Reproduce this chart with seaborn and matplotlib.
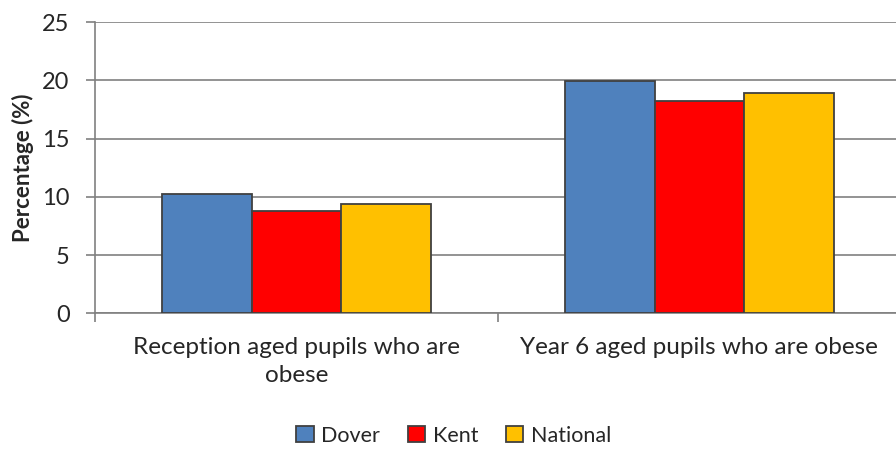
import pandas as pd
import matplotlib
matplotlib.use("Agg")
import matplotlib.pyplot as plt
import seaborn as sns

# data
categories = ["Reception aged pupils who are\nobese", "Year 6 aged pupils who are obese"]
areas = ["Dover", "Kent", "National"]
dover = [10.2, 19.9]
kent = [8.75, 18.25]
national = [9.35, 18.9]
colors = ["#4F81BD", "#FF0000", "#FFC000"]

df = pd.DataFrame({
    "category": categories * 3,
    "area": [a for a in areas for _ in categories],
    "value": dover + kent + national,
})

sns.set_style("white")
plt.rcParams["font.family"] = ["Lato", "DejaVu Sans"]

fig = plt.figure(figsize=(8.96, 4.5), dpi=100)
# axis runs a little past the right edge, like the original
ax = fig.add_axes([95.3 / 896, 1 - 313.3 / 450, 805.5 / 896, 291.3 / 450])

sns.barplot(data=df, x="category", y="value", hue="area", hue_order=areas,
            palette=colors, width=0.667, edgecolor="#404040", linewidth=1.3,
            saturation=1, ax=ax, zorder=3)

ax.set_xlim(-0.5, 1.5)
ax.set_ylim(0, 25)
ax.set_yticks(range(0, 26, 5))
ax.yaxis.grid(True, color="#808080", linewidth=1.2, zorder=0)
ax.set_axisbelow(True)

for s in ["top", "right"]:
    ax.spines[s].set_visible(False)
for s in ["left", "bottom"]:
    ax.spines[s].set_color("#808080")
    ax.spines[s].set_linewidth(1.2)

ax.tick_params(axis="y", labelsize=17, length=6.5, width=1.2, color="#808080", pad=12, left=True)
ax.tick_params(axis="x", labelsize=17.5, length=0, pad=17)
for lbl in ax.get_xticklabels():
    lbl.set_linespacing(1.4)
# tick marks between categories
ax.set_xticks([-0.5, 0.5, 1.5], minor=True)
ax.tick_params(axis="x", which="minor", length=6.5, width=1.2, color="#808080", bottom=True)

ax.set_xlabel("")
ax.set_ylabel("Percentage (%)", fontsize=16, fontweight="bold", labelpad=6)

ax.legend(loc="center", bbox_to_anchor=(0.445, -0.42), ncol=3, frameon=False,
          fontsize=15.5, handlelength=0.8, handleheight=0.8, handletextpad=0.35,
          columnspacing=1.3)

fig.savefig("out.png", dpi=100)
